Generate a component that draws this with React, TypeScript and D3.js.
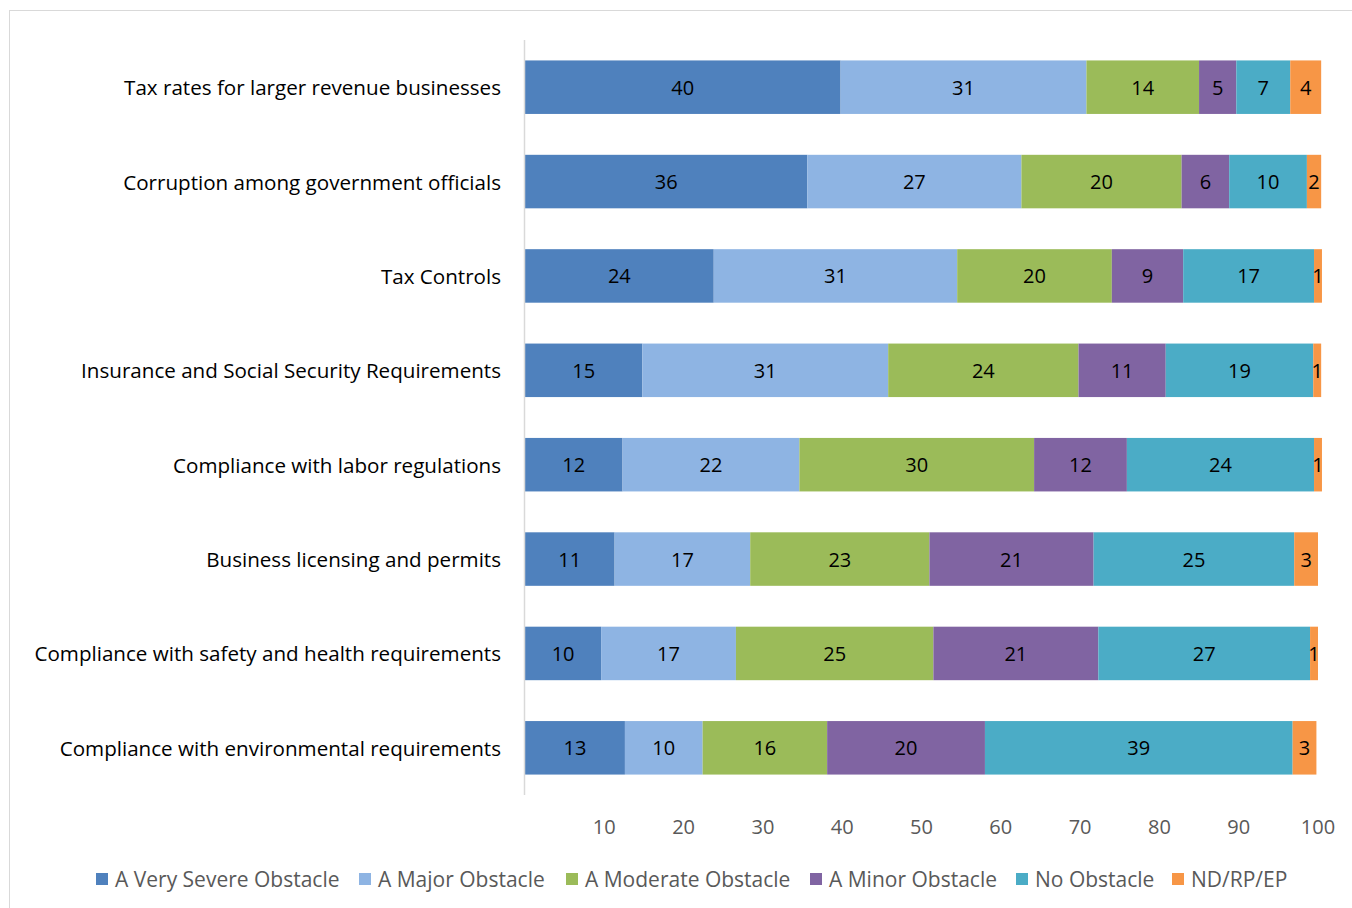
import React from "react";
import * as d3 from "d3";

const categories = [
  "Tax rates for larger revenue businesses",
  "Corruption among government officials",
  "Tax Controls",
  "Insurance and Social Security Requirements",
  "Compliance with labor regulations",
  "Business licensing and permits",
  "Compliance with safety and health requirements",
  "Compliance with environmental requirements",
];

const seriesNames = [
  "A Very Severe Obstacle",
  "A Major Obstacle",
  "A Moderate Obstacle",
  "A Minor Obstacle",
  "No Obstacle",
  "ND/RP/EP",
];

const verySevere = [39.8, 35.6, 23.8, 14.8, 12.3, 11.3, 9.6, 12.6];
const major = [31.0, 27.0, 30.7, 31.0, 22.3, 17.1, 17.0, 9.8];
const moderate = [14.2, 20.2, 19.5, 24.0, 29.6, 22.6, 24.9, 15.7];
const minor = [4.7, 6.0, 9.0, 11.0, 11.7, 20.7, 20.8, 19.9];
const noObstacle = [6.8, 9.8, 16.5, 18.6, 23.6, 25.3, 26.7, 38.8];
const ndrpep = [3.9, 1.8, 1.0, 1.0, 1.0, 3.0, 1.0, 3.0];

const tickValues = [10, 20, 30, 40, 50, 60, 70, 80, 90, 100];

const colors = ["#4F81BD", "#8EB4E3", "#9BBB59", "#8064A2", "#4BACC6", "#F79646"];

const FONT = "'Open Sans', 'Noto Sans', sans-serif";

export default function App() {
  const W = 1352;
  const H = 908;
  const seriesValues = [verySevere, major, moderate, minor, noObstacle, ndrpep];

  const rows = categories.map((c, i) => {
    const r: any = { cat: c };
    seriesNames.forEach((s, j) => (r[s] = seriesValues[j][i]));
    return r;
  });
  const stacked = d3.stack<any>().keys(seriesNames)(rows);

  const x = d3.scaleLinear().domain([0, 100]).range([525, 1318]);
  const y = d3
    .scaleBand<string>()
    .domain(categories)
    .range([40, 795])
    .paddingInner(0.433)
    .paddingOuter(0.2165);

  const legendX = [96, 359, 566, 810, 1016, 1172];

  return (
    <div style={{ position: "absolute", left: 0, top: 0 }}>
      <svg width={W} height={H} style={{ display: "block", background: "#fff" }}>
        <rect x={9.5} y={10.5} width={1400} height={950} fill="#fff" stroke="#D9D9D9" strokeWidth={1} />
        {stacked.map((layer, j) => (
          <g key={layer.key}>
            {layer.map((d, i) => (
              <rect
                key={i}
                x={x(d[0])}
                y={y(categories[i])}
                width={x(d[1]) - x(d[0])}
                height={y.bandwidth()}
                fill={colors[j]}
              />
            ))}
          </g>
        ))}
        {stacked.map((layer, j) => (
          <g key={"l" + layer.key}>
            {layer.map((d, i) => (
              <text
                key={i}
                x={(x(d[0]) + x(d[1])) / 2}
                y={(y(categories[i]) as number) + y.bandwidth() / 2}
                textAnchor="middle"
                dominantBaseline="central"
                fontFamily={FONT}
                fontSize={20}
                fill="#000"
              >
                {Math.round(d[1] - d[0])}
              </text>
            ))}
          </g>
        ))}
        <line x1={524.5} x2={524.5} y1={40} y2={795} stroke="#D9D9D9" strokeWidth={1.5} />
        {categories.map((c) => (
          <text
            key={c}
            x={501}
            y={(y(c) as number) + y.bandwidth() / 2}
            textAnchor="end"
            dominantBaseline="central"
            fontFamily={FONT}
            fontSize={20.6}
            fill="#000"
          >
            {c}
          </text>
        ))}
        {tickValues.map((t) => (
          <text
            key={t}
            x={x(t)}
            y={826}
            textAnchor="middle"
            dominantBaseline="central"
            fontFamily={FONT}
            fontSize={20}
            fill="#595959"
          >
            {t}
          </text>
        ))}
        {seriesNames.map((s, j) => (
          <g key={s} transform={`translate(${legendX[j]},879)`}>
            <rect x={0} y={-6} width={12} height={12} fill={colors[j]} />
            <text
              x={19}
              y={0}
              dominantBaseline="central"
              fontFamily={FONT}
              fontSize={21}
              fill="#595959"
            >
              {s}
            </text>
          </g>
        ))}
      </svg>
    </div>
  );
}
